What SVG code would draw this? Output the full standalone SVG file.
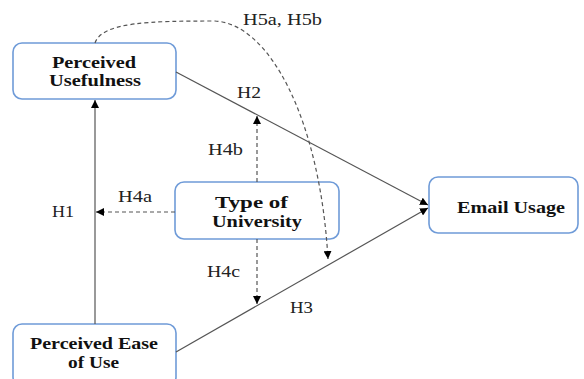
<svg xmlns="http://www.w3.org/2000/svg" width="584" height="379" viewBox="0 0 584 379">
<style>
.box{fill:#fff;stroke:#6f9bd8;stroke-width:1.6}
.nt{font-family:'Liberation Serif','Times New Roman',serif;font-weight:bold;font-size:16px;fill:#111}
.lb{font-family:'Liberation Serif','Times New Roman',serif;font-size:16px;fill:#222}
.sl{fill:none;stroke:#555;stroke-width:1.2}
.dl{fill:none;stroke:#555;stroke-width:1.2;stroke-dasharray:4,3}
</style>
<defs>
<marker id="ah" viewBox="0 0 10 10" refX="10" refY="5" markerWidth="8" markerHeight="8" markerUnits="userSpaceOnUse" orient="auto"><path d="M0,0 L10,5 L0,10 z" fill="#000"/></marker>
</defs>
<rect width="584" height="379" fill="#fff"/>
<g id="pu">
<rect class="box" x="13" y="43" width="163" height="56" rx="9"/>
<text class="nt" x="52" y="68" textLength="84" lengthAdjust="spacingAndGlyphs">Perceived</text>
<text class="nt" x="49" y="86" textLength="92" lengthAdjust="spacingAndGlyphs">Usefulness</text>
</g>
<g id="tu">
<rect class="box" x="175" y="182" width="164" height="57" rx="9"/>
<text class="nt" x="215" y="208" textLength="73" lengthAdjust="spacingAndGlyphs">Type of</text>
<text class="nt" x="212" y="227" textLength="90" lengthAdjust="spacingAndGlyphs">University</text>
</g>
<g id="eu">
<rect class="box" x="429" y="177" width="149" height="56" rx="9"/>
<text class="nt" x="457" y="213" textLength="108" lengthAdjust="spacingAndGlyphs">Email Usage</text>
</g>
<g id="peou">
<rect class="box" x="13" y="324" width="163" height="62" rx="9"/>
<text class="nt" x="30" y="349" textLength="128" lengthAdjust="spacingAndGlyphs">Perceived Ease</text>
<text class="nt" x="68" y="368" textLength="51" lengthAdjust="spacingAndGlyphs">of Use</text>
</g>
<g id="connectors">
<line class="sl" x1="95" y1="324" x2="95" y2="100" marker-end="url(#ah)"/>
<line class="sl" x1="176" y1="72" x2="428" y2="205" marker-end="url(#ah)"/>
<line class="sl" x1="176" y1="352" x2="428" y2="208" marker-end="url(#ah)"/>
<line class="dl" x1="175" y1="212" x2="96" y2="212" marker-end="url(#ah)"/>
<line class="dl" x1="257" y1="182" x2="257" y2="116" marker-end="url(#ah)"/>
<line class="dl" x1="257" y1="239" x2="257" y2="304" marker-end="url(#ah)"/>
<path class="dl" d="M95,43 C102,22 150,21 215,21 C270,24 320,120 328,259" marker-end="url(#ah)"/>
<text class="lb" x="243" y="25" textLength="79" lengthAdjust="spacingAndGlyphs">H5a, H5b</text>
<text class="lb" x="237" y="98" textLength="24" lengthAdjust="spacingAndGlyphs">H2</text>
<text class="lb" x="208" y="155" textLength="35" lengthAdjust="spacingAndGlyphs">H4b</text>
<text class="lb" x="118" y="202" textLength="34" lengthAdjust="spacingAndGlyphs">H4a</text>
<text class="lb" x="52" y="217" textLength="22" lengthAdjust="spacingAndGlyphs">H1</text>
<text class="lb" x="207" y="277" textLength="33" lengthAdjust="spacingAndGlyphs">H4c</text>
<text class="lb" x="290" y="313" textLength="23" lengthAdjust="spacingAndGlyphs">H3</text>
</g>
</svg>
